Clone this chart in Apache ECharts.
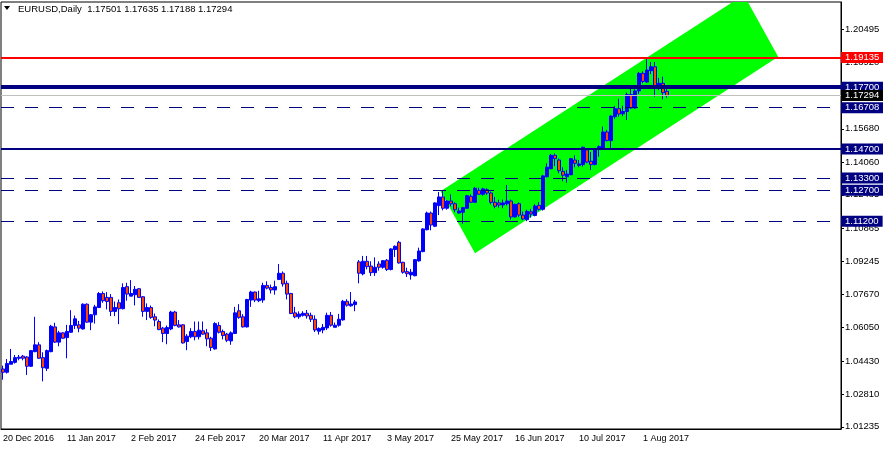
<!DOCTYPE html>
<html><head><meta charset="utf-8">
<script src="https://cdn.jsdelivr.net/npm/echarts@6/dist/echarts.min.js"></script>
<style>html,body{margin:0;padding:0;background:#fff}#c{width:883px;height:450px}</style>
</head><body><div id="c"></div>
<script>
const symbolName = 'EURUSD,Daily';
const firstDate = '2016-12-20';
const totalSlots = 210;

const opens = [
1.0404,1.0388,1.0427,1.0436,1.0456,1.0466,1.0462,1.0417,1.0488,1.0521,
1.0459,1.0407,1.0488,1.0608,1.0534,1.0579,1.0556,1.0582,1.0615,1.0618,
1.0598,1.0718,1.0631,1.0667,1.0702,1.0770,1.0751,1.0751,1.0683,1.0725,
1.0696,1.0803,1.0757,1.0764,1.0793,1.0754,1.0683,1.0702,1.0657,1.0634,
1.0602,1.0576,1.0598,1.0680,1.0618,1.0618,1.0537,1.0560,1.0586,1.0560,
1.0589,1.0579,1.0553,1.0501,1.0615,1.0586,1.0573,1.0540,1.0576,1.0686,
1.0657,1.0608,1.0738,1.0777,1.0735,1.0738,1.0809,1.0799,1.0787,1.0838,
1.0868,1.0819,1.0770,1.0676,1.0657,1.0664,1.0674,1.0664,1.0645,1.0587,
1.0593,1.0603,1.0664,1.0606,1.0616,1.0642,1.0732,1.0710,1.0716,1.0923,
1.0865,1.0926,1.0903,1.0871,1.0913,1.0897,1.0931,1.0886,1.0983,1.1018,
1.0921,1.0876,1.0860,1.0856,1.0928,1.0973,1.1079,1.1160,1.1096,1.1196,
1.1238,1.1183,1.1218,1.1205,1.1160,1.1164,1.1183,1.1241,1.1212,1.1270,
1.1251,1.1273,1.1257,1.1212,1.1209,1.1199,1.1205,1.1218,1.1141,1.1205,
1.1150,1.1128,1.1166,1.1148,1.1197,1.1178,1.1336,1.1375,1.1440,1.1417,
1.1362,1.1336,1.1346,1.1417,1.1391,1.1395,1.1466,1.1411,1.1395,1.1472,
1.1472,1.1553,1.1511,1.1627,1.1666,1.1641,1.1652,1.1734,1.1669,1.1752,
1.1837,1.1795,1.1850,1.1869,1.1773,1.1789,1.17501];
const highs = [
1.0420,1.0452,1.0501,1.0472,1.0472,1.0472,1.0466,1.0495,1.0657,1.0534,
1.0485,1.0498,1.0618,1.0628,1.0589,1.0582,1.0618,1.0689,1.0663,1.0637,
1.0722,1.0722,1.0670,1.0715,1.0777,1.0780,1.0777,1.0767,1.0731,1.0741,
1.0819,1.0822,1.0835,1.0806,1.0796,1.0757,1.0722,1.0712,1.0673,1.0644,
1.0608,1.0615,1.0686,1.0686,1.0641,1.0621,1.0573,1.0602,1.0634,1.0634,
1.0634,1.0598,1.0560,1.0631,1.0631,1.0595,1.0579,1.0586,1.0705,1.0718,
1.0670,1.0744,1.0783,1.0780,1.0783,1.0822,1.0829,1.0813,1.0832,1.0913,
1.0877,1.0832,1.0773,1.0705,1.0683,1.0684,1.0690,1.0677,1.0664,1.0606,
1.0622,1.0677,1.0680,1.0629,1.0671,1.0739,1.0742,1.0777,1.0739,1.0932,
1.0952,1.0952,1.0926,1.0945,1.0926,1.0932,1.0937,1.0989,1.1003,1.1025,
1.0924,1.0895,1.0889,1.0937,1.0992,1.1086,1.1167,1.1167,1.1212,1.1262,
1.1270,1.1222,1.1251,1.1212,1.1186,1.1189,1.1248,1.1251,1.1286,1.1283,
1.1283,1.1280,1.1264,1.1238,1.1225,1.1225,1.1296,1.1225,1.1205,1.1212,
1.1167,1.1176,1.1180,1.1203,1.1213,1.1345,1.1401,1.1446,1.1449,1.1424,
1.1382,1.1369,1.1427,1.1440,1.1417,1.1482,1.1475,1.1456,1.1475,1.1488,
1.1579,1.1563,1.1634,1.1679,1.1714,1.1680,1.1744,1.1773,1.1760,1.1844,
1.1847,1.1908,1.1892,1.1892,1.1815,1.1821,1.17635];
const lows = [
1.0352,1.0382,1.0427,1.0430,1.0446,1.0446,1.0375,1.0414,1.0485,1.0453,
1.0344,1.0394,1.0485,1.0530,1.0514,1.0550,1.0456,1.0579,1.0598,1.0582,
1.0595,1.0628,1.0592,1.0624,1.0699,1.0725,1.0693,1.0660,1.0660,1.0621,
1.0693,1.0735,1.0757,1.0712,1.0748,1.0657,1.0641,1.0647,1.0611,1.0592,
1.0534,1.0524,1.0592,1.0611,1.0605,1.0527,1.0495,1.0553,1.0543,1.0547,
1.0569,1.0514,1.0491,1.0498,1.0576,1.0547,1.0534,1.0521,1.0573,1.0647,
1.0605,1.0605,1.0705,1.0728,1.0728,1.0725,1.0790,1.0770,1.0764,1.0835,
1.0803,1.0741,1.0670,1.0650,1.0647,1.0658,1.0648,1.0632,1.0583,1.0571,
1.0577,1.0593,1.0609,1.0606,1.0609,1.0638,1.0706,1.0706,1.0684,1.0819,
1.0858,1.0887,1.0855,1.0855,1.0881,1.0890,1.0879,1.0882,1.0947,1.0915,
1.0866,1.0850,1.0837,1.0853,1.0924,1.0970,1.1076,1.1076,1.1092,1.1150,
1.1173,1.1176,1.1193,1.1164,1.1157,1.1108,1.1180,1.1209,1.1209,1.1248,
1.1244,1.1248,1.1202,1.1183,1.1186,1.1183,1.1196,1.1128,1.1138,1.1141,
1.1125,1.1120,1.1138,1.1144,1.1172,1.1172,1.1333,1.1372,1.1388,1.1353,
1.1314,1.1307,1.1343,1.1382,1.1382,1.1385,1.1401,1.1369,1.1391,1.1433,
1.1469,1.1508,1.1475,1.1617,1.1627,1.1630,1.1611,1.1666,1.1666,1.1737,
1.1789,1.1792,1.1834,1.1724,1.1756,1.1711,1.17188];
const closes = [
1.0388,1.0430,1.0440,1.0459,1.0461,1.0456,1.0417,1.0493,1.0521,1.0456,
1.0410,1.0493,1.0611,1.0534,1.0579,1.0553,1.0586,1.0615,1.0647,1.0602,
1.0718,1.0631,1.0667,1.0705,1.0770,1.0735,1.0731,1.0683,1.0702,1.0696,
1.0799,1.0767,1.0770,1.0790,1.0751,1.0683,1.0702,1.0654,1.0641,1.0595,
1.0576,1.0605,1.0680,1.0615,1.0608,1.0530,1.0563,1.0586,1.0560,1.0592,
1.0573,1.0550,1.0508,1.0624,1.0582,1.0566,1.0543,1.0579,1.0676,1.0654,
1.0608,1.0741,1.0777,1.0738,1.0744,1.0809,1.0796,1.0787,1.0803,1.0868,
1.0816,1.0767,1.0673,1.0657,1.0670,1.0674,1.0661,1.0645,1.0593,1.0600,
1.0606,1.0664,1.0616,1.0616,1.0645,1.0732,1.0713,1.0719,1.0729,1.0868,
1.0926,1.0900,1.0871,1.0897,1.0897,1.0929,1.0886,1.0986,1.0999,1.0918,
1.0873,1.0866,1.0873,1.0934,1.0976,1.1083,1.1160,1.1102,1.1209,1.1238,
1.1183,1.1218,1.1205,1.1176,1.1170,1.1186,1.1244,1.1212,1.1280,1.1251,
1.1277,1.1257,1.1212,1.1193,1.1199,1.1209,1.1218,1.1141,1.1202,1.1150,
1.1131,1.1168,1.1155,1.1194,1.1178,1.1340,1.1382,1.1440,1.1424,1.1365,
1.1343,1.1349,1.1424,1.1401,1.1398,1.1479,1.1407,1.1395,1.1472,1.1482,
1.1553,1.1511,1.1630,1.1666,1.1640,1.1652,1.1734,1.1669,1.1752,1.1837,
1.1798,1.1853,1.1869,1.1773,1.1789,1.1743,1.17294];

const yTickLabels = [1.20495,1.18920,1.17300,1.15680,1.14060,1.12485,1.10865,1.09245,1.07670,1.06050,1.04430,1.02810,1.01235];
const resistanceLevels = [1.19135];
const thickLevels = [1.17700];
const solidLevels = [1.14700];
const dashedLevels = [1.16708,1.13300,1.12700,1.11200];
// channel corners: [bar index, price]
const channelPoints = [[109.4,1.1265],[185.2,1.2218],[193.8,1.1918],[118.0,1.0965]];
const yMin = 1.0113, yMax = 1.2183;

const monthNames = ['Jan','Feb','Mar','Apr','May','Jun','Jul','Aug','Sep','Oct','Nov','Dec'];
function weekdaySlots(start, n) {
  const out = []; const d = new Date(start + 'T00:00:00Z');
  while (out.length < n) {
    const wd = d.getUTCDay();
    if (wd !== 0 && wd !== 6) out.push(d.getUTCDate() + ' ' + monthNames[d.getUTCMonth()] + ' ' + d.getUTCFullYear());
    d.setUTCDate(d.getUTCDate() + 1);
  }
  return out;
}
const dates = weekdaySlots(firstDate, totalSlots);
const last = opens.length - 1;
const FONT = "'Liberation Sans', Arial, sans-serif";
const showDateAt = idx => idx % 16 === 0 && idx <= last;

const chart = echarts.init(document.getElementById('c'), null, {renderer: 'canvas'});

function lvl(v, color, width, type, bg) {
  return {yAxis: v, lineStyle: {color: color, width: width, type: type},
    label: {backgroundColor: bg || color}};
}
const markData = [];
dashedLevels.forEach(v => markData.push(lvl(v, '#000080', 1, [13, 11])));
solidLevels.forEach(v => markData.push(lvl(v, '#000080', 2, 'solid')));
thickLevels.forEach(v => markData.push(lvl(v, '#000080', 4, 'solid')));
resistanceLevels.forEach(v => markData.push(lvl(v, '#ff0000', 2, 'solid')));
markData.push(lvl(closes[last], '#c0c0c0', 1, 'solid', '#000000'));

const option = {
  animation: false,
  backgroundColor: '#ffffff',
  grid: {left: 1, right: 42, top: 2, bottom: 21, show: true, borderColor: '#000', borderWidth: 1, backgroundColor: 'transparent'},
  xAxis: {
    type: 'category', data: dates, boundaryGap: true,
    axisLine: {lineStyle: {color: '#000', width: 1}},
    axisTick: {interval: showDateAt, alignWithLabel: true, length: 4, lineStyle: {color: '#000'}},
    axisLabel: {interval: showDateAt, align: 'left', color: '#000', fontSize: 9, fontFamily: FONT, margin: 5},
    splitLine: {show: false}
  },
  yAxis: {
    type: 'value', position: 'right', min: yMin, max: yMax, scale: true,
    axisLine: {show: true, lineStyle: {color: '#000', width: 1}},
    axisTick: {show: true, length: 3, customValues: yTickLabels, lineStyle: {color: '#000'}},
    axisLabel: {customValues: yTickLabels, color: '#000', fontSize: 9.5, fontFamily: FONT, margin: 4,
      formatter: v => Number(v).toFixed(5)},
    splitLine: {show: false}
  },
  graphic: [
    {type: 'polygon', shape: {points: [[4, 6], [10, 6], [7, 10]]}, style: {fill: '#000'}},
    {type: 'text', left: 18, top: 4, style: {
      text: symbolName + '  ' + [opens[last], highs[last], lows[last], closes[last]].map(v => v.toFixed(5)).join(' '),
      fontSize: 9.5, fontFamily: FONT, fill: '#000'}}
  ],
  series: [
    {
      type: 'custom', z: 1, silent: true, data: [[0, yMin]],
      renderItem: function (params, api) {
        const pts = channelPoints.map(function (p) {
          const i0 = Math.floor(p[0]); const f = p[0] - i0;
          const a = api.coord([i0, p[1]]); const b = api.coord([i0 + 1, p[1]]);
          return [a[0] + (b[0] - a[0]) * f, a[1]];
        });
        const cs = params.coordSys;
        return {type: 'polygon', shape: {points: pts}, style: {fill: '#00ff00'},
          clipPath: {type: 'rect', shape: {x: cs.x, y: cs.y, width: cs.width, height: cs.height}}};
      }
    },
    {
      type: 'candlestick', z: 3, barWidth: 3,
      data: opens.map((o, i) => [o, closes[i], lows[i], highs[i]]),
      itemStyle: {color: '#0000ff', color0: '#ff4500', borderColor: '#0000ff', borderColor0: '#0000ff', borderWidth: 1},
      markLine: {
        silent: true, symbol: ['none', 'none'], z: 4, precision: 5,
        label: {show: true, position: 'end', distance: 0, color: '#fff', fontSize: 9.5, fontFamily: FONT,
          lineHeight: 10, padding: [1, 4, 0, 4], formatter: p => Number(p.value).toFixed(5)},
        data: markData
      }
    }
  ]
};
chart.setOption(option);
</script></body></html>
